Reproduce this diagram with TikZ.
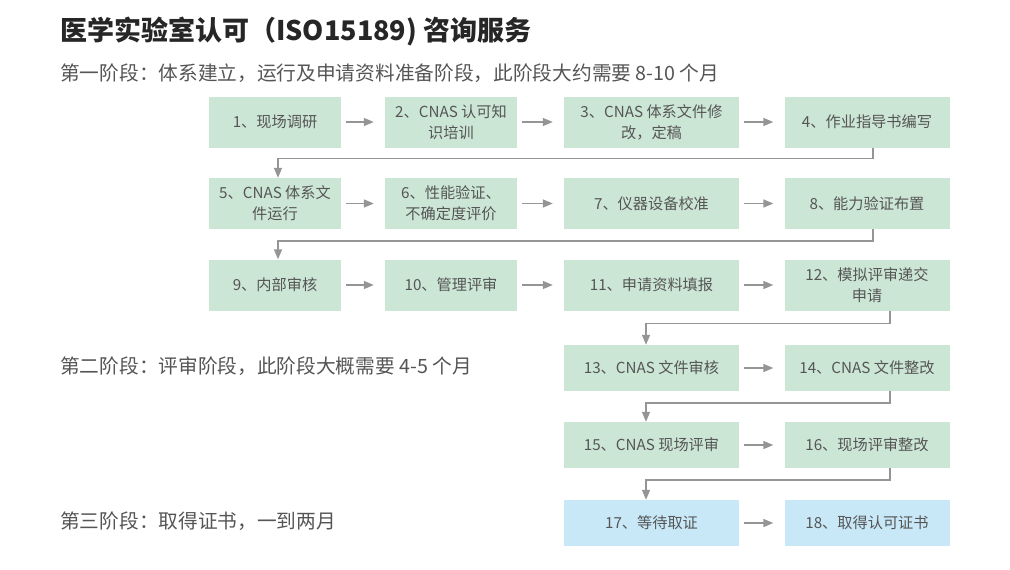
\documentclass[tikz,border=0pt]{standalone}
\usepackage{fontspec}
\setmainfont{Noto Sans CJK SC}
\usetikzlibrary{arrows.meta}
\definecolor{boxgreen}{HTML}{CCE6D6}
\definecolor{boxblue}{HTML}{C8E8F8}
\definecolor{txtgray}{HTML}{555555}
\definecolor{arrgray}{HTML}{959595}

\begin{document}
\begin{tikzpicture}[x=1pt,y=-1pt,
	stagebox/.style={fill=boxgreen,text=txtgray,font=\fontsize{15.2}{21}\selectfont,align=center,inner sep=0pt,minimum height=51pt},
	donebox/.style={stagebox,fill=boxblue},
	flowarr/.style={draw=arrgray,line width=1.5pt,-{Triangle[length=10pt,width=8pt]}},
	phase/.style={anchor=west,text=txtgray,font=\fontsize{19.7}{23}\selectfont,inner sep=0pt}]
	\useasboundingbox (0,0) rectangle (1010,570);
	\node[anchor=west,inner sep=0pt,font=\fontsize{27}{30}\selectfont\bfseries,text=black!85](title) at (60,32) {医学实验室认可（ISO15189) 咨询服务};
	\node[phase](p1) at (60,73) {第一阶段：体系建立，运行及申请资料准备阶段，此阶段大约需要 8-10 个月};
	\node[phase](p2) at (60,366) {第二阶段：评审阶段，此阶段大概需要 4-5 个月};
	\node[phase](p3) at (60,521) {第三阶段：取得证书，一到两月};
	% stage 1
	\node[stagebox,minimum width=132pt](s1) at (275,122) {1、现场调研};
	\node[stagebox,minimum width=132pt](s2) at (451,122) {2、CNAS 认可知\\识培训};
	\node[stagebox,minimum width=175pt](s3) at (651.5,122) {3、CNAS 体系文件修\\改，定稿};
	\node[stagebox,minimum width=165pt](s4) at (867,122) {4、作业指导书编写};
	\node[stagebox,minimum width=132pt](s5) at (275,203.5) {5、CNAS 体系文\\件运行};
	\node[stagebox,minimum width=132pt](s6) at (451,203.5) {6、性能验证、\\不确定度评价};
	\node[stagebox,minimum width=175pt](s7) at (651.5,203.5) {7、仪器设备校准};
	\node[stagebox,minimum width=165pt](s8) at (867,203.5) {8、能力验证布置};
	\node[stagebox,minimum width=132pt](s9) at (275,285) {9、内部审核};
	\node[stagebox,minimum width=132pt](s10) at (451,285) {10、管理评审};
	\node[stagebox,minimum width=175pt](s11) at (651.5,285) {11、申请资料填报};
	\node[stagebox,minimum width=165pt](s12) at (867,285) {12、模拟评审递交\\申请};
	% stage 2
	\node[stagebox,minimum width=175pt,minimum height=46pt](s13) at (651.5,368) {13、CNAS 文件审核};
	\node[stagebox,minimum width=165pt,minimum height=46pt](s14) at (867,368) {14、CNAS 文件整改};
	\node[stagebox,minimum width=175pt,minimum height=46pt](s15) at (651.5,445) {15、CNAS 现场评审};
	\node[stagebox,minimum width=165pt,minimum height=46pt](s16) at (867,445) {16、现场评审整改};
	% stage 3
	\node[donebox,minimum width=175pt,minimum height=46pt](s17) at (651.5,523) {17、等待取证};
	\node[donebox,minimum width=165pt,minimum height=46pt](s18) at (867,523) {18、取得认可证书};
	% arrows
	\foreach \a/\b in {s1/s2,s2/s3,s3/s4,s5/s6,s6/s7,s7/s8,s9/s10,s10/s11,s11/s12,s13/s14,s15/s16,s17/s18}
		\draw[flowarr,shorten <=5pt,shorten >=11pt] (\a.east) -- (\b.west);
	\draw[flowarr] ([xshift=6pt]s4.south) -- ++(0,11) -| ([xshift=3pt]s5.north);
	\draw[flowarr] ([xshift=6pt]s8.south) -- ++(0,12) -| ([xshift=3pt]s9.north);
	\draw[flowarr] ([xshift=23pt]s12.south) -- ++(0,13) -| ([xshift=-5.5pt]s13.north);
	\draw[flowarr] ([xshift=23pt]s14.south) -- ++(0,12) -| ([xshift=-5.5pt]s15.north);
	\draw[flowarr] ([xshift=23pt]s16.south) -- ++(0,12) -| ([xshift=-5.5pt]s17.north);
\end{tikzpicture}
\end{document}
